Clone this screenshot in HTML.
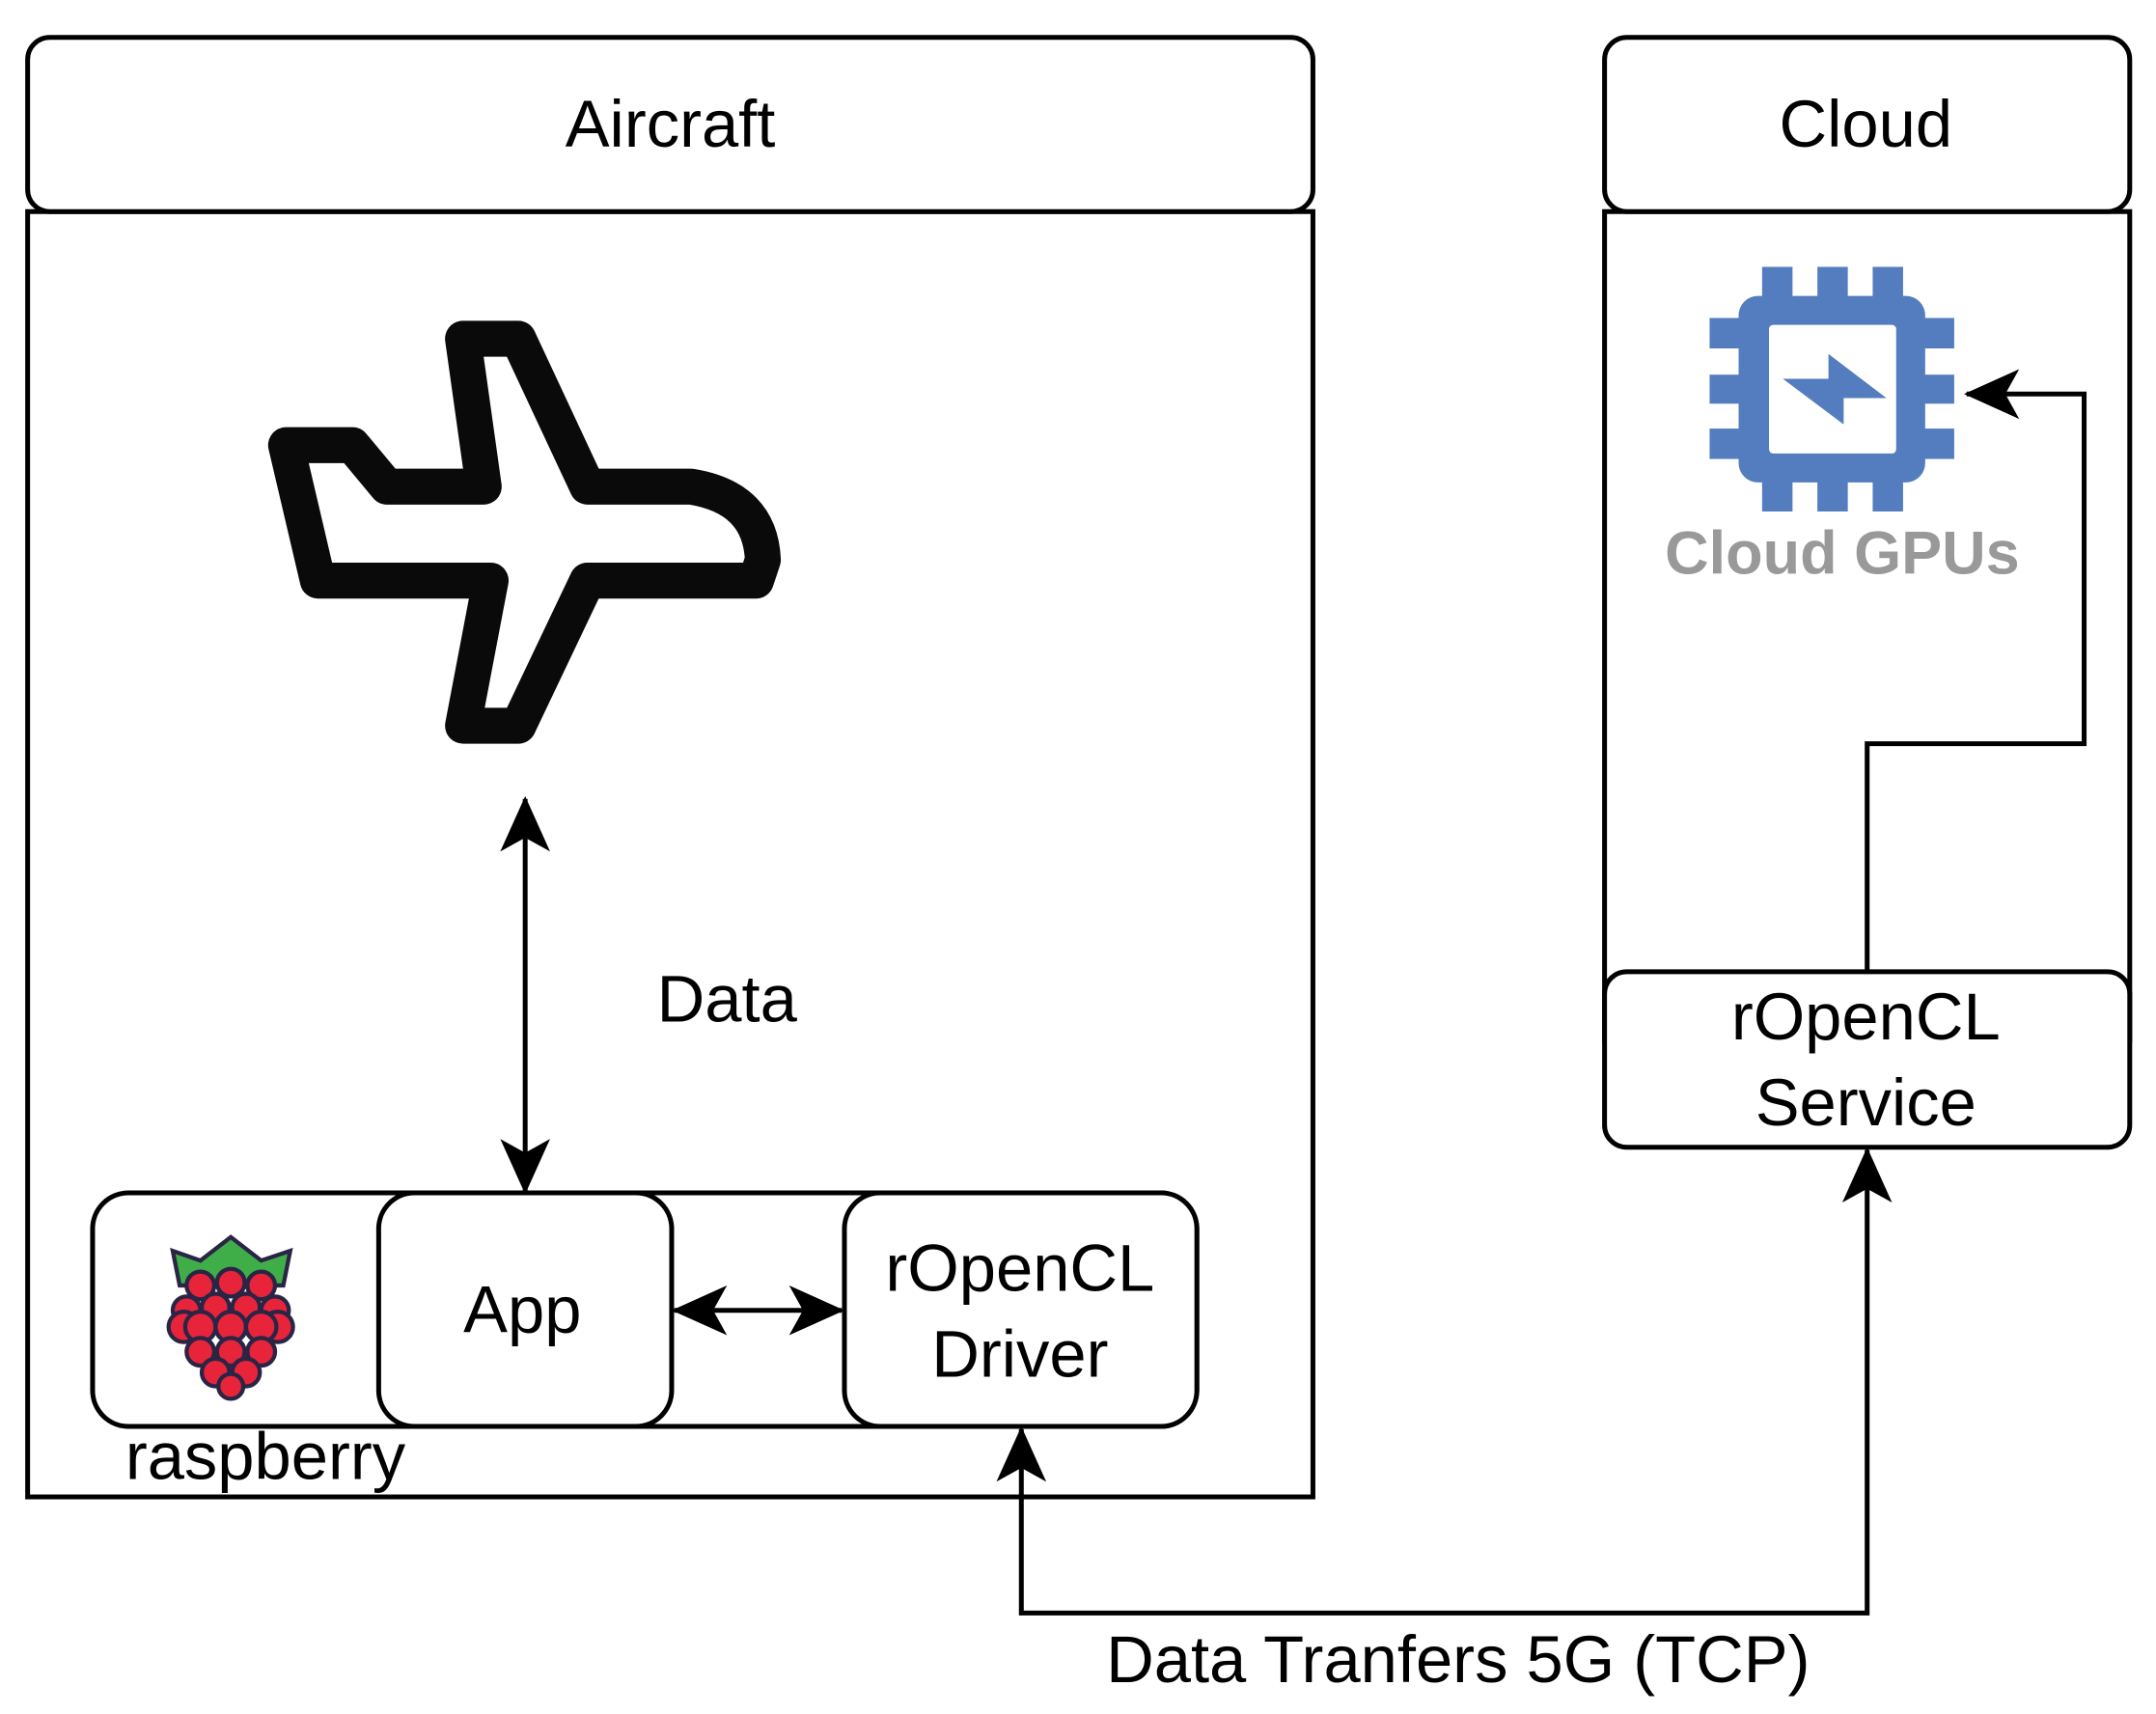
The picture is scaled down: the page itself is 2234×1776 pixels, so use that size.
<!DOCTYPE html>
<html><head><meta charset="utf-8"><style>html,body{margin:0;padding:0;background:#fff}svg{display:block}</style></head>
<body>
<svg width="2234" height="1776" viewBox="0 0 1560 1240" xmlns="http://www.w3.org/2000/svg" font-family="Liberation Sans, Arial, sans-serif">
<defs>
<marker id="ah" viewBox="0 0 40 36" refX="38" refY="18" markerWidth="40" markerHeight="36" markerUnits="userSpaceOnUse" orient="auto-start-reverse">
<path d="M0,0 L40,18 L0,36 L10,18 Z" fill="#000"/>
</marker>
</defs>
<g fill="none" stroke="#000" stroke-width="3.5">
<rect x="20" y="153" width="930" height="930" fill="#fff"/>
<rect x="20" y="27" width="930" height="126" rx="16" fill="#fff"/>
<rect x="1161" y="153" width="380" height="600" fill="#fff"/>
<rect x="1161" y="27" width="380" height="126" rx="16" fill="#fff"/>
<rect x="1161" y="703" width="380" height="127" rx="16" fill="#fff"/>
<rect x="67" y="863" width="799" height="169" rx="26" fill="#fff"/>
<rect x="274" y="863" width="212" height="169" rx="26" fill="#fff"/>
<rect x="611" y="863" width="255" height="169" rx="26" fill="#fff"/>
<line x1="380" y1="578" x2="380" y2="862" marker-start="url(#ah)" marker-end="url(#ah)"/>
<line x1="488" y1="948" x2="609" y2="948" marker-start="url(#ah)" marker-end="url(#ah)"/>
<polyline points="739,1034 739,1167 1351,1167 1351,832" marker-start="url(#ah)" marker-end="url(#ah)"/>
<polyline points="1351,703 1351,538 1508,538 1508,285 1423,285" marker-end="url(#ah)"/>
</g>
<path d="M207,322 L255,322 L280,352 L350,352 L335,245 L375,245 L425,352 L500,352 Q550,360 552,405 L547,420 L425,420 L375,525 L335,525 L355,420 L230,420 Z" fill="#fff" stroke="#0a0a0a" stroke-width="26" stroke-linejoin="round"/>
<g fill="#547DBF">
<rect x="1258" y="214" width="135" height="135" rx="14"/>
<rect x="1275" y="193" width="22" height="177"/>
<rect x="1315" y="193" width="22" height="177"/>
<rect x="1355" y="193" width="22" height="177"/>
<rect x="1237" y="230" width="177" height="22"/>
<rect x="1237" y="271" width="177" height="21"/>
<rect x="1237" y="310" width="177" height="22"/>
<rect x="1280" y="235" width="92" height="93" rx="3" fill="#fff"/>
<polygon points="1290,274 1323,274 1323,256 1365,288 1334,288 1334,307"/>
</g>
<g stroke="#2a2545" stroke-width="3">
<path d="M125,905 L145,912 L167,895 L189,912 L210,905 L205,930 L130,930 Z" fill="#3fae49"/>
<g fill="#e8243a">
<circle cx="145" cy="930" r="10"/><circle cx="167" cy="928" r="10"/><circle cx="189" cy="930" r="10"/>
<circle cx="135" cy="948" r="10"/><circle cx="156" cy="946" r="10"/><circle cx="178" cy="946" r="10"/><circle cx="199" cy="948" r="10"/>
<circle cx="133" cy="960" r="11"/><circle cx="201" cy="960" r="11"/>
<circle cx="145" cy="960" r="11"/><circle cx="167" cy="960" r="11"/><circle cx="189" cy="960" r="11"/>
<circle cx="145" cy="978" r="10"/><circle cx="167" cy="978" r="10"/><circle cx="189" cy="978" r="10"/>
<circle cx="156" cy="993" r="10"/><circle cx="178" cy="993" r="10"/>
<circle cx="167" cy="1003" r="9"/>
</g>
</g>
<g font-size="48" fill="#000" text-anchor="middle">
<text x="485" y="106">Aircraft</text>
<text x="1350" y="106">Cloud</text>
<text x="526" y="739">Data</text>
<text x="378" y="964">App</text>
<text x="738" y="934">rOpenCL</text>
<text x="738" y="996">Driver</text>
<text x="1350" y="752">rOpenCL</text>
<text x="1350" y="814">Service</text>
<text x="192" y="1070">raspberry</text>
<text x="1055" y="1217">Data Tranfers 5G (TCP)</text>
<text x="1333" y="415" fill="#999" font-weight="bold" font-size="44">Cloud GPUs</text>
</g>
</svg>
</body></html>
